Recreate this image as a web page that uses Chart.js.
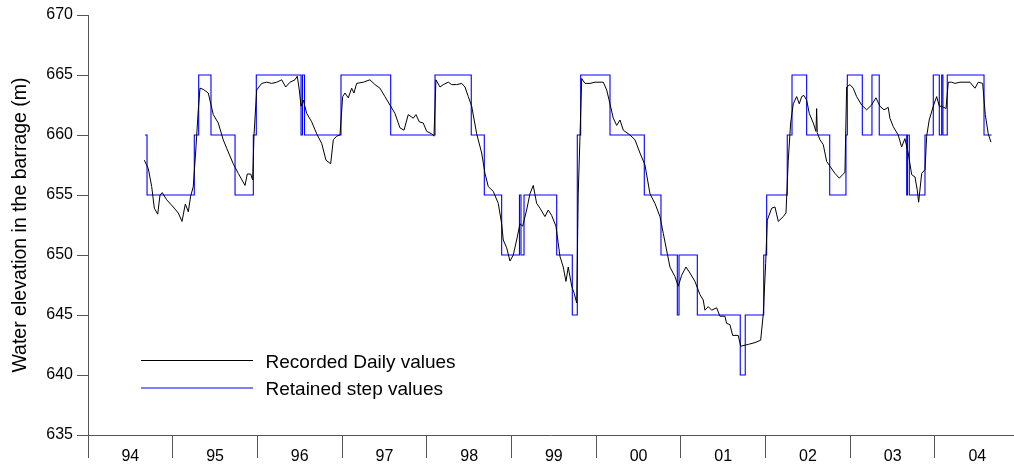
<!DOCTYPE html>
<html>
<head>
<meta charset="utf-8">
<script src="https://cdn.jsdelivr.net/npm/chart.js@4.4.1/dist/chart.umd.min.js"></script>
<style>
  html, body { margin: 0; padding: 0; background: #fff; }
  #wrap { width: 1014px; height: 468px; position: relative; }
</style>
</head>
<body>
<div id="wrap"><canvas id="c"></canvas></div>
<script>
// ---- data (decimal years / metres) ----
const yearLabels = ['94','95','96','97','98','99','00','01','02','03','04'];
const yTicks = [635, 640, 645, 650, 655, 660, 665, 670];

const dailyT = [1994.665,1994.712,1994.752,1994.783,1994.823,1994.850,1994.877,1994.929,1995.007,1995.066,
1995.110,1995.149,1995.184,1995.212,1995.243,1995.275,1995.302,1995.322,1995.361,1995.420,
1995.479,1995.538,1995.597,1995.637,1995.715,1995.774,1995.854,1995.881,1995.921,1995.944,
1995.960,1995.992,1996.051,1996.110,1996.169,1996.228,1996.287,1996.334,1996.385,1996.444,
1996.471,1996.495,1996.515,1996.542,1996.582,1996.641,1996.700,1996.759,1996.810,1996.865,
1996.896,1996.936,1996.975,1997.007,1997.034,1997.073,1997.113,1997.140,1997.172,1997.250,
1997.329,1997.388,1997.447,1997.506,1997.565,1997.624,1997.683,1997.731,1997.781,1997.840,
1997.872,1997.911,1997.958,1997.999,1998.058,1998.085,1998.108,1998.156,1998.195,1998.254,
1998.294,1998.353,1998.412,1998.451,1998.490,1998.530,1998.589,1998.648,1998.687,1998.726,
1998.785,1998.844,1998.884,1998.903,1998.943,1998.982,1999.021,1999.061,1999.100,1999.132,
1999.179,1999.218,1999.257,1999.297,1999.336,1999.395,1999.434,1999.474,1999.525,1999.572,
1999.611,1999.643,1999.670,1999.711,1999.741,1999.770,1999.788,1999.809,1999.829,1999.868,
1999.927,1999.986,2000.045,2000.084,2000.124,2000.163,2000.202,2000.242,2000.281,2000.320,
2000.399,2000.458,2000.517,2000.576,2000.635,2000.694,2000.753,2000.792,2000.871,2000.930,
2000.969,2001.009,2001.060,2001.107,2001.166,2001.225,2001.264,2001.284,2001.323,2001.363,
2001.422,2001.461,2001.520,2001.540,2001.579,2001.611,2001.677,2001.706,2001.796,2001.875,
2001.942,2001.973,2002.001,2002.020,2002.072,2002.111,2002.150,2002.209,2002.241,2002.268,
2002.296,2002.327,2002.367,2002.398,2002.426,2002.453,2002.485,2002.516,2002.563,2002.595,
2002.603,2002.610,2002.642,2002.681,2002.721,2002.760,2002.819,2002.870,2002.910,2002.937,
2002.957,2002.996,2003.035,2003.075,2003.134,2003.193,2003.252,2003.303,2003.350,2003.398,
2003.448,2003.468,2003.507,2003.566,2003.606,2003.645,2003.684,2003.725,2003.764,2003.791,
2003.807,2003.843,2003.882,2003.902,2003.932,2003.980,2004.020,2004.051,2004.079,2004.130,
2004.157,2004.197,2004.236,2004.295,2004.354,2004.413,2004.472,2004.511,2004.563,2004.594,
2004.629,2004.661];

const dailyV = [657.9,657.2,655.7,653.9,653.4,655.0,655.2,654.6,654.0,653.5,
652.8,654.25,653.6,654.9,655.7,659.0,662.1,663.9,663.8,663.5,
661.7,661.0,659.6,658.9,657.6,656.8,655.8,656.75,656.75,656.25,
660.0,663.75,664.3,664.4,664.3,664.4,664.6,664.0,664.4,664.6,
664.9,663.75,662.4,662.9,661.8,661.1,660.1,659.3,657.9,657.6,
659.6,659.9,660.0,663.2,663.5,663.1,663.9,663.5,664.3,664.4,
664.6,664.2,663.9,663.2,662.5,661.8,660.6,660.4,661.7,661.4,
661.7,661.1,661.0,660.3,660.1,659.9,664.6,664.0,664.2,664.4,
664.2,664.2,664.3,664.0,663.2,662.4,660.1,658.5,656.8,655.7,
655.3,654.3,652.6,651.25,650.6,649.5,650.0,651.25,652.6,652.4,
653.75,655.1,655.8,654.3,653.9,653.2,653.75,653.3,652.4,649.9,
649.0,647.8,649.0,647.4,646.8,646.0,655.1,659.9,664.7,664.3,
664.3,664.4,664.4,664.4,663.75,662.6,661.4,660.8,661.25,660.4,
660.0,659.6,658.5,657.5,655.1,654.3,653.2,651.8,649.0,648.2,
647.4,648.3,649.0,648.5,647.8,646.7,646.25,645.4,645.7,645.4,
645.6,644.9,644.9,644.3,644.2,643.3,643.3,642.4,642.55,642.7,
642.9,645.1,649.3,652.9,653.9,654.0,652.8,653.2,653.5,657.9,
661.0,662.6,663.2,662.6,663.2,663.3,662.9,661.8,661.0,660.3,
662.2,660.2,659.6,659.2,657.8,657.4,656.8,656.4,656.7,656.9,
664.0,664.2,663.9,663.2,662.5,662.1,662.5,663.1,662.4,662.1,
662.3,661.4,660.7,660.0,659.0,659.7,658.5,656.7,656.5,655.4,
654.4,656.8,657.1,659.9,661.25,662.4,663.2,662.4,662.4,662.2,
664.4,664.4,664.3,664.4,664.4,664.4,663.9,664.4,664.3,661.7,
660.1,659.4];

// step series: each value holds from its start time to the next start
const stepT = [1994.673,1994.697,1995.255,1995.307,1995.452,1995.736,1995.952,1995.987,1996.515,1996.532,
1996.556,1996.987,1997.574,1998.097,1998.525,1998.679,1998.884,1999.094,1999.112,1999.148,
1999.534,1999.718,1999.777,1999.817,2000.163,2000.568,2000.765,2000.958,2000.978,2001.194,
2001.701,2001.760,2001.978,2002.013,2002.256,2002.312,2002.485,2002.757,2002.949,2002.965,
2003.142,2003.256,2003.342,2003.666,2003.675,2003.697,2003.882,2003.980,2004.051,2004.079,
2004.094,2004.145,2004.579,2004.669];
const stepV = [660,655,660,665,660,655,660,665,660,665,
660,665,660,665,660,655,650,655,650,655,
650,645,660,665,660,655,650,645,650,645,
640,645,650,655,660,665,660,655,660,665,
660,665,660,655,660,655,660,665,660,665,
660,665,660,660];

const seriesNames = ['Recorded Daily values', 'Retained step values'];
const yTitle = 'Water elevation in the barrage (m)';

// ---- chart ----
const FONT = '"Liberation Sans", Arial, Helvetica, sans-serif';
const AXIS = '#555';
const xTicks = [];
for (let i = 0; i < yearLabels.length; i++) { xTicks.push(1994 + i); xTicks.push(1994 + i + 0.5); }

const legendPlugin = {
  id: 'insideLegend',
  afterDraw(chart) {
    const {ctx, chartArea} = chart;
    const x0 = chartArea.left + 53, len = 112;
    ctx.save();
    ctx.font = '19px ' + FONT;
    ctx.textBaseline = 'alphabetic';
    ctx.textAlign = 'left';
    chart.data.datasets.forEach((ds, i) => {
      const y = chartArea.top + 345.5 + i * 27.5;
      ctx.strokeStyle = ds.borderColor;
      ctx.lineWidth = 1;
      ctx.beginPath(); ctx.moveTo(x0, y); ctx.lineTo(x0 + len, y); ctx.stroke();
      ctx.fillStyle = '#000';
      ctx.fillText(ds.label, x0 + len + 12.5, y + 7.3);
    });
    ctx.restore();
  }
};

new Chart(document.getElementById('c'), {
  type: 'line',
  data: {
    datasets: [
      {
        label: seriesNames[0],
        data: dailyT.map((t, i) => ({x: t, y: dailyV[i]})),
        borderColor: '#000000',
        borderWidth: 1,
        pointRadius: 0,
        tension: 0,
        fill: false
      },
      {
        label: seriesNames[1],
        data: stepT.map((t, i) => ({x: t, y: stepV[i]})),
        borderColor: '#0000ff',
        borderWidth: 1.1,
        pointRadius: 0,
        stepped: true,
        fill: false
      }
    ]
  },
  options: {
    responsive: true,
    maintainAspectRatio: false,
    animation: false,
    layout: { padding: { top: 15, left: 0, right: 0, bottom: 0 } },
    plugins: { legend: { display: false }, tooltip: { enabled: false } },
    scales: {
      x: {
        type: 'linear',
        min: 1994,
        max: 2004.933,
        afterBuildTicks: (s) => { s.ticks = xTicks.map(v => ({value: v})); },
        afterFit: (s) => { s.height = 33; },
        ticks: {
          autoSkip: false,
          maxRotation: 0,
          padding: -11,
          color: '#000',
          font: { family: FONT, size: 16 },
          callback: (v) => (Math.abs(v - Math.floor(v) - 0.5) < 1e-6) ? yearLabels[Math.floor(v) - 1994] : ''
        },
        grid: {
          drawOnChartArea: false,
          drawTicks: true,
          tickLength: 23,
          lineWidth: 1,
          color: (c) => (c.tick && Math.abs(c.tick.value - Math.round(c.tick.value)) < 1e-6) ? AXIS : 'rgba(0,0,0,0)'
        },
        border: { display: true, color: AXIS, width: 1 }
      },
      y: {
        min: 635,
        max: 670,
        afterBuildTicks: (s) => { s.ticks = yTicks.map(v => ({value: v})); },
        afterFit: (s) => { s.width = 88; },
        ticks: { padding: 4, color: '#000', font: { family: FONT, size: 16 } },
        grid: { drawOnChartArea: false, drawTicks: true, tickLength: 11, color: AXIS, lineWidth: 1 },
        border: { display: true, color: AXIS, width: 1 },
        title: {
          display: true,
          text: yTitle,
          color: '#000',
          font: { family: FONT, size: 19.5 },
          padding: { top: 9, bottom: 0 }
        }
      }
    }
  },
  plugins: [legendPlugin]
});
</script>
</body>
</html>
